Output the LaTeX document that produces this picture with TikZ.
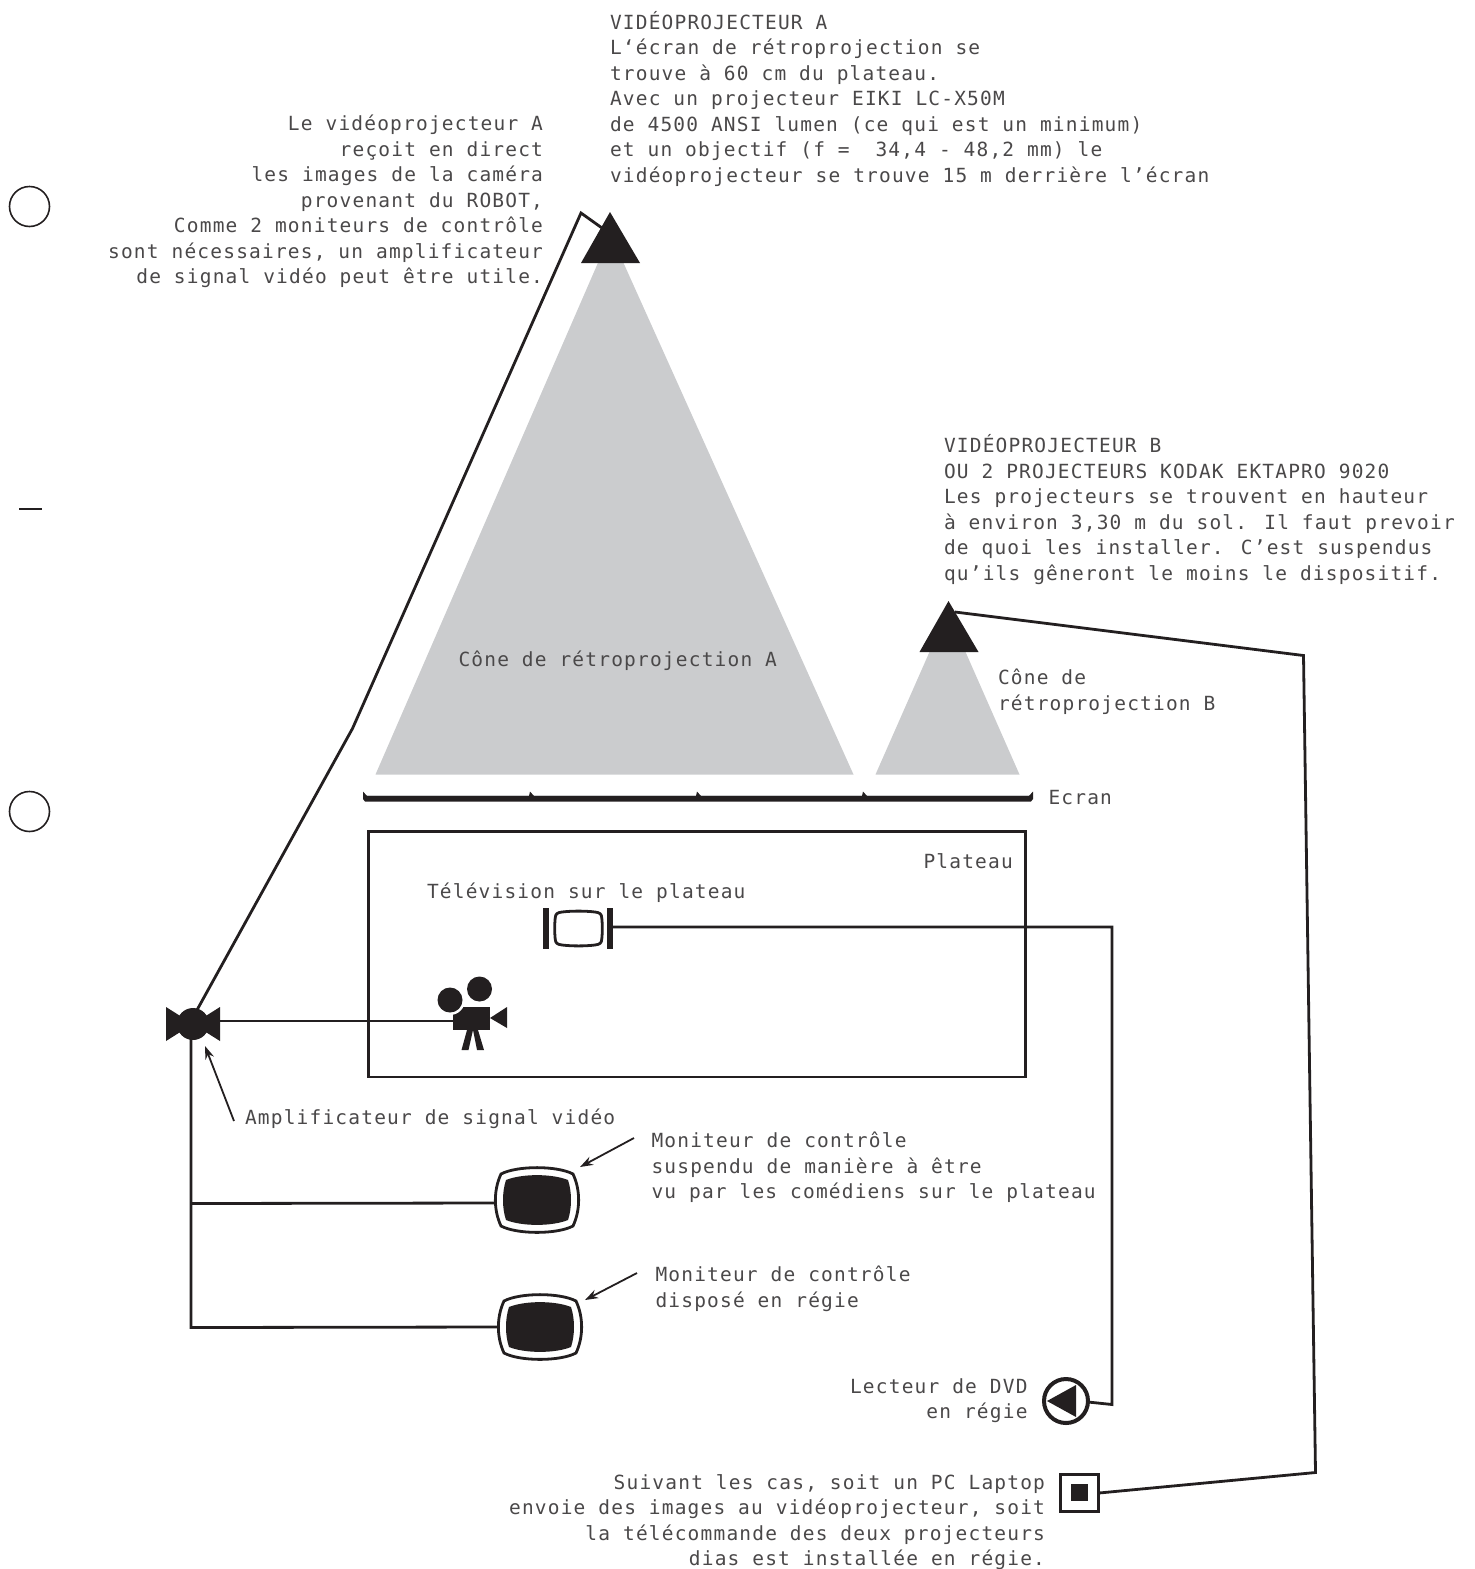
\documentclass[tikz,border=0pt]{standalone}
\usepackage{fontspec}
\setmainfont[LetterSpace=6.1]{DejaVu Sans Mono}
\usetikzlibrary{arrows.meta}
\definecolor{ink}{HTML}{231F20}
\definecolor{cone}{HTML}{CBCCCE}
\definecolor{inktext}{HTML}{4A4849}
\newcommand{\st}{\rule{0pt}{15pt}}
\tikzset{
  x=1pt,y=-1pt,
  wire/.style={draw=ink,line width=2.8pt,line join=miter},
  lbl/.style={inner sep=0pt,outer sep=0pt,text=inktext,font=\fontsize{19.5}{25.55}\selectfont},
  lefttext/.style={lbl,anchor=north west,align=left},
  righttext/.style={lbl,anchor=north east,align=right},
  callout/.style={draw=ink,line width=1.8pt,-{Stealth[length=13pt,width=9pt]}},
  pics/monitor/.style={code={
    \draw[ink,line width=2.8pt,fill=white]
      (-36,-26) .. controls (-20,-34.5) and (20,-34.5) .. (36,-26)
      .. controls (43.5,-10) and (43.5,10) .. (36,26)
      .. controls (20,34.5) and (-20,34.5) .. (-36,26)
      .. controls (-43.5,10) and (-43.5,-10) .. (-36,-26) -- cycle;
    \fill[ink]
      (-31,-20) .. controls (-15,-26.5) and (15,-26.5) .. (31,-20)
      .. controls (35,-8) and (35,8) .. (31,20)
      .. controls (15,26.5) and (-15,26.5) .. (-31,20)
      .. controls (-35,8) and (-35,-8) .. (-31,-20) -- cycle;
  }}
}
\begin{document}
\begin{tikzpicture}
\useasboundingbox (0,0) rectangle (1475,1569);
% binder marks
\draw[ink,line width=1.6pt] (29.5,206.5) circle[radius=20];
\draw[ink,line width=1.6pt] (29.5,811.5) circle[radius=20];
\draw[ink,line width=1.6pt] (19,509) -- (42,509);
% cones
\fill[cone] (610.5,234) -- (853.5,774.5) -- (375.5,774.5) -- cycle;
\fill[cone] (947.5,611) -- (1019.5,774.5) -- (875.5,774.5) -- cycle;
% projectors
\fill[ink] (610,212) -- (640,263) -- (581,263) -- cycle;
\fill[ink] (948.5,601) -- (978.5,652) -- (919.5,652) -- cycle;
\coordinate (projA) at (602,228);
\coordinate (projB) at (955,612);
% screen
\fill[cone] (365,794.5) rectangle (1031,796.5);
\fill[ink] (363,791.5) -- (367,796) -- (529,796) -- (530,791.5) -- (534,796) -- (696,796) -- (697,791.5) -- (701,796) -- (862,796) -- (863,791.5) -- (867,796) -- (1029,796) -- (1033,791.5) -- (1033,799) -- (1031,801.5) -- (365,801.5) -- (363,799) -- cycle;
% stage
\draw[wire] (368.5,831.5) rectangle (1025.5,1077);
% amplifier
\fill[ink] (193,1024) circle[radius=16];
\fill[ink] (166,1007) -- (193,1024) -- (166,1041) -- cycle;
\fill[ink] (220,1007) -- (193,1024) -- (220,1041) -- cycle;
\coordinate (ampTop) at (197,1010);
\coordinate (ampRight) at (220,1021);
\coordinate (ampBottom) at (191,1038);
% TV on stage
\fill[ink] (543,908) rectangle (549,949);
\fill[ink] (607,908) rectangle (612.5,949);
\draw[ink,line width=2.8pt] (562,912) .. controls (572,910.8) and (585,910.8) .. (595,912)
  .. controls (600,912.6) and (601.5,914) .. (601.8,918)
  .. controls (602.5,925) and (602.5,932) .. (601.8,939)
  .. controls (601.5,943) and (600,944.4) .. (595,945)
  .. controls (585,946.2) and (572,946.2) .. (562,945)
  .. controls (557,944.4) and (555.5,943) .. (555.2,939)
  .. controls (554.5,932) and (554.5,925) .. (555.2,918)
  .. controls (555.5,914) and (557,912.6) .. (562,912) -- cycle;
\coordinate (tvRight) at (612,927);
% camera
\fill[ink] (453,1007) rectangle (490,1030);
\fill[ink] (490,1018) -- (507,1007) -- (507,1028) -- cycle;
\fill[ink] (467,1030) -- (461.5,1050) -- (468.5,1050) -- (473,1030) -- cycle;
\fill[ink] (473,1030) -- (477,1050) -- (484,1050) -- (478,1030) -- cycle;
\fill[white] (450,1000) circle[radius=15];
\fill[ink] (450,1000) circle[radius=12.5];
\fill[ink] (479.5,989) circle[radius=12.5];
\coordinate (camLeft) at (453,1021);
% monitors
\pic at (537,1200) {monitor};
\pic at (540,1327) {monitor};
\coordinate (monA) at (494,1203);
\coordinate (monB) at (497,1327);
% DVD
\draw[ink,line width=4pt,fill=white] (1066,1401) circle[radius=22];
\fill[ink] (1047,1401) -- (1076,1385) -- (1076,1417) -- cycle;
\coordinate (dvdRight) at (1088,1402);
% laptop
\draw[ink,line width=3pt,fill=white] (1060,1474) rectangle (1098,1511);
\fill[ink] (1071,1484) rectangle (1088,1501);
\coordinate (pcRight) at (1099,1493);
% wires
\draw[wire] (ampTop) -- (352.5,728.5) -- (581,213) -- (projA);
\draw[wire] (ampRight) -- (camLeft);
\draw[wire] (ampBottom) -- (191,1327.5) -- (monB);
\draw[wire] (191,1203.5) -- (monA);
\draw[wire] (tvRight) -- (1112,927) -- (1112,1404.5) -- (dvdRight);
\draw[wire] (pcRight) -- (1315.5,1472.5) -- (1303.5,655.5) -- (projB);
% callouts
\coordinate (cAmp) at (234,1121); \coordinate (cAmpT) at (205,1046);
\coordinate (cM1) at (634,1138); \coordinate (cM1T) at (580,1167);
\coordinate (cM2) at (637,1273); \coordinate (cM2T) at (585,1300);
\draw[callout] (cAmp) -- (cAmpT);
\draw[callout] (cM1) -- (cM1T);
\draw[callout] (cM2) -- (cM2T);
% texts
\node[lefttext] (tA) at (610,11) {\st VIDÉOPROJECTEUR A\\L‘écran de rétroprojection se\\trouve à 60 cm du plateau.\\Avec un projecteur EIKI LC-X50M\\de 4500 ANSI lumen (ce qui est un minimum)\\et un objectif (f =\ \ 34,4 - 48,2 mm) le\\vidéoprojecteur se trouve 15 m derrière l’écran};
\node[righttext] (tL) at (543,115) {\st Le vidéoprojecteur A\\reçoit en direct\\les images de la caméra\\provenant du ROBOT,\\Comme 2 moniteurs de contrôle\\sont nécessaires, un amplificateur\\de signal vidéo peut être utile.};
\node[lefttext] (tB) at (944,434.5) {\st VIDÉOPROJECTEUR B\\OU 2 PROJECTEURS KODAK EKTAPRO 9020\\Les projecteurs se trouvent en hauteur\\à environ 3,30 m du sol. Il faut prevoir\\de quoi les installer. C’est suspendus\\qu’ils gêneront le moins le dispositif.};
\node[lefttext] (tCA) at (458.5,651) {\st Cône de rétroprojection A};
\node[lefttext] (tCB) at (998,669) {\st Cône de\\rétroprojection B};
\node[lefttext] (tE) at (1048.5,789) {\st Ecran};
\node[lefttext] (tP) at (923.5,853) {\st Plateau};
\node[lefttext] (tT) at (427,883) {\st Télévision sur le plateau};
\node[lefttext] (tAm) at (245,1109) {\st Amplificateur de signal vidéo};
\node[lefttext] (tM1) at (651.5,1132) {\st Moniteur de contrôle\\suspendu de manière à être\\vu par les comédiens sur le plateau};
\node[lefttext] (tM2) at (655.5,1266) {\st Moniteur de contrôle\\disposé en régie};
\node[righttext] (tD) at (1027.5,1378) {\st Lecteur de DVD\\en régie};
\node[righttext] (tS) at (1045,1474) {\st Suivant les cas, soit un PC Laptop\\envoie des images au vidéoprojecteur, soit\\la télécommande des deux projecteurs\\dias est installée en régie.};
\end{tikzpicture}
\end{document}
